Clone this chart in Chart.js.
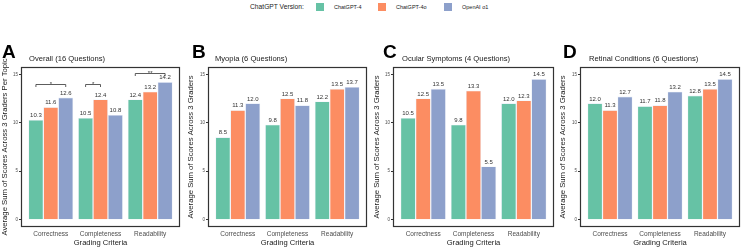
<!DOCTYPE html>
<html>
<head>
<meta charset="utf-8">
<script src="https://cdn.jsdelivr.net/npm/chart.js@4.4.1/dist/chart.umd.min.js"></script>
<style>
  body { margin: 0; width: 742px; height: 248px; background: #fff; position: relative; overflow: hidden;
         font-family: 'Liberation Sans', Arial, sans-serif; }
  canvas { position: absolute; top: 0; }
  .letter { position: absolute; font-weight: bold; font-size: 19px; line-height: 1; color: #000; }
  .title { position: absolute; font-size: 7.6px; line-height: 1; color: #1a1a1a; white-space: nowrap; }
  .legend { position: absolute; top: 3px; left: 250px; height: 8px; font-size: 5.5px; color: #222; }
  .legend span { position: absolute; top: 0; line-height: 8px; white-space: nowrap; }
  .legend i { position: absolute; top: 0; width: 8px; height: 8px; }
</style>
</head>
<body>
<div class="legend" id="legend"></div>

<script>
// categories and series
const criteria = ['Correctness', 'Completeness', 'Readability'];
const models = ['ChatGPT-4', 'ChatGPT-4o', 'OpenAI o1'];
const colors = ['#66C2A5', '#FC8D62', '#8DA0CB'];
const yTicks = [0, 5, 10, 15];

const overallGpt4 = [10.3, 10.5, 12.4];
const overallGpt4o = [11.6, 12.4, 13.2];
const overallO1 = [12.6, 10.8, 14.2];

const myopiaGpt4 = [8.5, 9.8, 12.2];
const myopiaGpt4o = [11.3, 12.5, 13.5];
const myopiaO1 = [12.0, 11.8, 13.7];

const ocularGpt4 = [10.5, 9.8, 12.0];
const ocularGpt4o = [12.5, 13.3, 12.3];
const ocularO1 = [13.5, 5.5, 14.5];

const retinalGpt4 = [12.0, 11.7, 12.8];
const retinalGpt4o = [11.3, 11.8, 13.5];
const retinalO1 = [12.7, 13.2, 14.5];

// significance brackets (overall panel only): criterion, from model, to model, level, mark
const overallSig = [
  { crit: 0, from: 0, to: 2, level: 14.0, mark: '*' },
  { crit: 1, from: 0, to: 1, level: 14.0, mark: '*' },
  { crit: 2, from: 0, to: 2, level: 15.1, mark: '**' }
];

const FONT = "'Liberation Sans', Arial, sans-serif";

// legend
const legend = document.getElementById('legend');
legend.innerHTML = '<span style="left:0;font-size:6.7px">ChatGPT Version:</span>';
const swatchX = [66, 128, 194];
models.forEach((m, i) => {
  legend.innerHTML += `<i style="left:${swatchX[i]}px;background:${colors[i]}"></i>` +
    `<span style="left:${swatchX[i] + 18}px">${m}</span>`;
});

const decor = {
  id: 'decor',
  afterDatasetsDraw(chart, args, opts) {
    const { ctx, chartArea: a, scales: { y } } = chart;
    ctx.save();
    // value labels
    ctx.font = `6px ${FONT}`;
    ctx.fillStyle = '#333';
    ctx.textAlign = 'center';
    ctx.textBaseline = 'bottom';
    chart.data.datasets.forEach((ds, i) => {
      chart.getDatasetMeta(i).data.forEach((bar, j) => {
        ctx.fillText(ds.data[j].y.toFixed(1), bar.x, bar.y - 1.5);
      });
    });
    // significance brackets
    ctx.strokeStyle = '#333';
    ctx.lineWidth = 0.8;
    ctx.textBaseline = 'alphabetic';
    (opts.brackets || []).forEach(b => {
      const x1 = chart.getDatasetMeta(b.from).data[b.crit].x;
      const x2 = chart.getDatasetMeta(b.to).data[b.crit].x;
      const yy = Math.round(y.getPixelForValue(b.level)) + 0.5;
      ctx.beginPath();
      ctx.moveTo(x1, yy + 2.5);
      ctx.lineTo(x1, yy);
      ctx.lineTo(x2, yy);
      ctx.lineTo(x2, yy + 2.5);
      ctx.stroke();
      ctx.fillText(b.mark, (x1 + x2) / 2, yy + 1.5);
    });
    // panel border
    ctx.strokeStyle = '#333';
    ctx.lineWidth = 1.2;
    ctx.strokeRect(a.left + 0.5, a.top + 0.5, a.width - 1, a.height - 1);
    ctx.restore();
  }
};

function makePanel(p) {
  const canvas = document.createElement('canvas');
  canvas.width = p.width;
  canvas.height = 248;
  canvas.style.left = p.left + 'px';
  document.body.appendChild(canvas);

  const letter = document.createElement('div');
  letter.className = 'letter';
  letter.textContent = p.letter;
  letter.style.left = p.letterX + 'px';
  letter.style.top = '42px';
  document.body.appendChild(letter);

  const title = document.createElement('div');
  title.className = 'title';
  title.textContent = p.title;
  title.style.left = p.titleX + 'px';
  title.style.top = '55px';
  document.body.appendChild(title);

  new Chart(canvas, {
    type: 'bar',
    data: {
      datasets: p.series.map((vals, i) => ({
        label: models[i],
        data: criteria.map((c, j) => ({ x: j + 1, y: vals[j] })),
        backgroundColor: colors[i],
        borderColor: 'rgba(225, 232, 245, 0.9)',
        borderWidth: 0.6,
        categoryPercentage: 0.9,
        barPercentage: 1.0
      }))
    },
    options: {
      responsive: false,
      animation: false,
      devicePixelRatio: 1,
      layout: { padding: { top: 67, right: p.padRight, bottom: 0, left: 0 } },
      plugins: {
        legend: { display: false },
        tooltip: { enabled: false },
        decor: { brackets: p.brackets }
      },
      scales: {
        x: {
          type: 'linear',
          min: 0.4,
          max: 3.6,
          offset: false,
          afterBuildTicks: s => { s.ticks = criteria.map((c, j) => ({ value: j + 1 })); },
          afterFit: s => { s.height = 21; },
          ticks: {
            callback: v => criteria[v - 1],
            autoSkip: false,
            maxRotation: 0,
            padding: 3,
            color: '#4d4d4d',
            font: { family: FONT, size: 6.5 }
          },
          grid: { display: false, drawTicks: false, tickLength: 0 },
          border: { display: false },
          title: {
            display: true,
            text: 'Grading Criteria',
            color: '#1a1a1a',
            padding: { top: 0, bottom: 1 },
            font: { family: FONT, size: 7.6 }
          }
        },
        y: {
          min: -0.75,
          max: 15.75,
          afterBuildTicks: s => { s.ticks = yTicks.map(v => ({ value: v })); },
          afterFit: s => { s.width = p.yWidth; },
          ticks: {
            padding: 1,
            color: '#4d4d4d',
            font: { family: FONT, size: 4.5 }
          },
          grid: { drawOnChartArea: false, tickLength: 2, color: '#333' },
          border: { display: false },
          title: {
            display: true,
            text: p.yTitle,
            color: '#1a1a1a',
            padding: { top: 0, bottom: 0 },
            font: { family: FONT, size: 7.7 }
          }
        }
      }
    },
    plugins: [decor]
  });
}

const shortY = 'Average Sum of Scores Across 3 Graders';

makePanel({ letter: 'A', title: 'Overall (16 Questions)', left: 0, width: 186, yWidth: 21, padRight: 6,
  letterX: 2, titleX: 29, yTitle: shortY + ' Per Topic',
  series: [overallGpt4, overallGpt4o, overallO1], brackets: overallSig });
makePanel({ letter: 'B', title: 'Myopia (6 Questions)', left: 186, width: 186, yWidth: 22, padRight: 5,
  letterX: 192, titleX: 215, yTitle: shortY,
  series: [myopiaGpt4, myopiaGpt4o, myopiaO1], brackets: [] });
makePanel({ letter: 'C', title: 'Ocular Symptoms (4 Questions)', left: 372, width: 186, yWidth: 21, padRight: 4,
  letterX: 383, titleX: 402, yTitle: shortY,
  series: [ocularGpt4, ocularGpt4o, ocularO1], brackets: [] });
makePanel({ letter: 'D', title: 'Retinal Conditions (6 Questions)', left: 558, width: 184, yWidth: 22, padRight: 2,
  letterX: 563, titleX: 589, yTitle: shortY,
  series: [retinalGpt4, retinalGpt4o, retinalO1], brackets: [] });
</script>
</body>
</html>
